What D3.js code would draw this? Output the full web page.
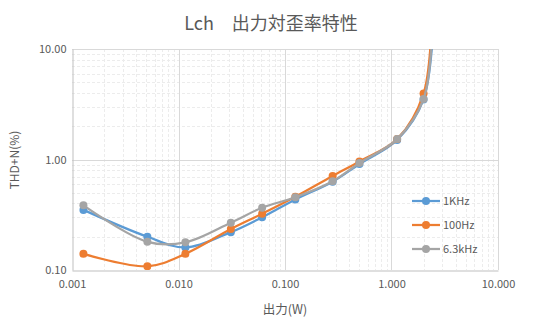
<!DOCTYPE html>
<html><head><meta charset="utf-8">
<script src="https://cdn.jsdelivr.net/npm/d3@7"></script>
<style>
html,body{margin:0;padding:0;background:#fff;}
text{font-family:"Noto Sans CJK JP","Noto Sans",sans-serif;fill:#595959;}
</style></head>
<body><svg id="c" width="540" height="329"></svg>
<script>
const title = "Lch\u3000出力対歪率特性";
const xTitle = "出力(W)";
const yTitle = "THD+N(%)";
const seriesNames = ["1KHz", "100Hz", "6.3kHz"];
const seriesColors = ["#5b9bd5", "#ed7d31", "#a5a5a5"];
const power1k   = [0.00128, 0.0051, 0.0116, 0.031, 0.061, 0.125, 0.28, 0.5, 1.13, 2.0, 2.5];
const power100  = [0.00128, 0.0051, 0.0116, 0.031, 0.061, 0.125, 0.28, 0.5, 1.13, 2.0, 2.4];
const power6k3  = [0.00128, 0.0051, 0.0116, 0.031, 0.061, 0.125, 0.28, 0.5, 1.13, 2.0, 2.45];
const thd1k     = [0.35, 0.20, 0.16, 0.22, 0.30, 0.435, 0.63, 0.91, 1.50, 3.5, 20];
const thd100    = [0.14, 0.108, 0.14, 0.235, 0.323, 0.46, 0.71, 0.96, 1.53, 3.95, 20];
const thd6k3    = [0.385, 0.18, 0.178, 0.268, 0.366, 0.455, 0.635, 0.93, 1.53, 3.53, 20];
const xTickValues = [0.001, 0.01, 0.1, 1, 10];
const xTickLabels = ["0.001", "0.010", "0.100", "1.000", "10.000"];
const yTickValues = [0.1, 1, 10];
const yTickLabels = ["0.10", "1.00", "10.00"];

const series = [
  {name: seriesNames[0], color: seriesColors[0], xs: power1k, ys: thd1k},
  {name: seriesNames[1], color: seriesColors[1], xs: power100, ys: thd100},
  {name: seriesNames[2], color: seriesColors[2], xs: power6k3, ys: thd6k3}
];

const svg = d3.select("#c");
const L = 72, R = 498, T = 49, B = 270;
const x = d3.scaleLog().domain([0.001, 10]).range([L, R]);
const y = d3.scaleLog().domain([0.1, 10]).range([B, T]);

// minor grid
const minorX = [], minorY = [];
[0.001, 0.01, 0.1, 1].forEach(d => { for (let k = 2; k <= 9; k++) minorX.push(d * k); });
[0.1, 1].forEach(d => { for (let k = 2; k <= 9; k++) minorY.push(d * k); });
const g = svg.append("g");
g.selectAll(".mx").data(minorX).enter().append("line")
  .attr("x1", d => Math.round(x(d)) + 0.5).attr("x2", d => Math.round(x(d)) + 0.5)
  .attr("y1", T).attr("y2", B).attr("stroke", "#ececec").attr("stroke-dasharray", "3,2");
g.selectAll(".my").data(minorY).enter().append("line")
  .attr("y1", d => Math.round(y(d)) + 0.5).attr("y2", d => Math.round(y(d)) + 0.5)
  .attr("x1", L).attr("x2", R).attr("stroke", "#ececec").attr("stroke-dasharray", "3,2");
g.selectAll(".Mx").data(xTickValues.slice(1)).enter().append("line")
  .attr("x1", d => Math.round(x(d)) + 0.5).attr("x2", d => Math.round(x(d)) + 0.5)
  .attr("y1", T).attr("y2", B).attr("stroke", "#d9d9d9");
g.selectAll(".My").data(yTickValues.slice(1)).enter().append("line")
  .attr("y1", d => Math.round(y(d)) + 0.5).attr("y2", d => Math.round(y(d)) + 0.5)
  .attr("x1", L).attr("x2", R).attr("stroke", "#d9d9d9");

// axes
const xAxis = d3.axisBottom(x).tickValues(xTickValues).tickFormat((d, i) => xTickLabels[i]).tickSize(0).tickPadding(10);
const yAxis = d3.axisLeft(y).tickValues(yTickValues).tickFormat((d, i) => yTickLabels[i]).tickSize(0).tickPadding(6);
const gx = svg.append("g").attr("transform", `translate(0,${B + 0.5})`).call(xAxis);
const gy = svg.append("g").attr("transform", `translate(${L + 0.5},0)`).call(yAxis);
[gx, gy].forEach(a => {
  a.select(".domain").attr("stroke", "#bfbfbf");
  a.selectAll("text").attr("font-size", 11).style("fill", "#595959")
    .attr("font-family", "'Noto Sans CJK JP','Noto Sans',sans-serif");
});

// clip
svg.append("clipPath").attr("id", "clip").append("rect")
  .attr("x", L).attr("y", T).attr("width", R - L).attr("height", B - T);

const line = d3.line().curve(d3.curveCatmullRom.alpha(0.5))
  .x(d => x(d[0])).y(d => y(d[1]));
const plot = svg.append("g").attr("clip-path", "url(#clip)");
series.forEach(s => {
  const pts = s.xs.map((v, i) => [v, s.ys[i]]);
  plot.append("path").attr("d", line(pts)).attr("fill", "none")
    .attr("stroke", s.color).attr("stroke-width", 2.25).attr("stroke-linejoin", "round");
  plot.selectAll(null).data(pts.filter(p => p[1] <= 10)).enter().append("circle")
    .attr("cx", d => x(d[0])).attr("cy", d => y(d[1])).attr("r", 4)
    .attr("fill", s.color);
});

// legend
const lg = svg.append("g");
series.forEach((s, i) => {
  const yy = 201 + i * 24;
  lg.append("line").attr("x1", 412).attr("x2", 440).attr("y1", yy).attr("y2", yy)
    .attr("stroke", s.color).attr("stroke-width", 2.25);
  lg.append("circle").attr("cx", 426).attr("cy", yy).attr("r", 4).attr("fill", s.color);
  lg.append("text").attr("x", 443).attr("y", yy + 4).attr("font-size", 11).text(s.name);
});

// titles
svg.append("text").attr("x", 271).attr("y", 30).attr("text-anchor", "middle")
  .attr("font-size", 18).text(title);
svg.append("text").attr("x", 285).attr("y", 314).attr("text-anchor", "middle")
  .attr("font-size", 12.5).text(xTitle);
svg.append("text").attr("transform", "translate(19,160) rotate(-90)").attr("text-anchor", "middle")
  .attr("font-size", 12).text(yTitle);
</script></body></html>
